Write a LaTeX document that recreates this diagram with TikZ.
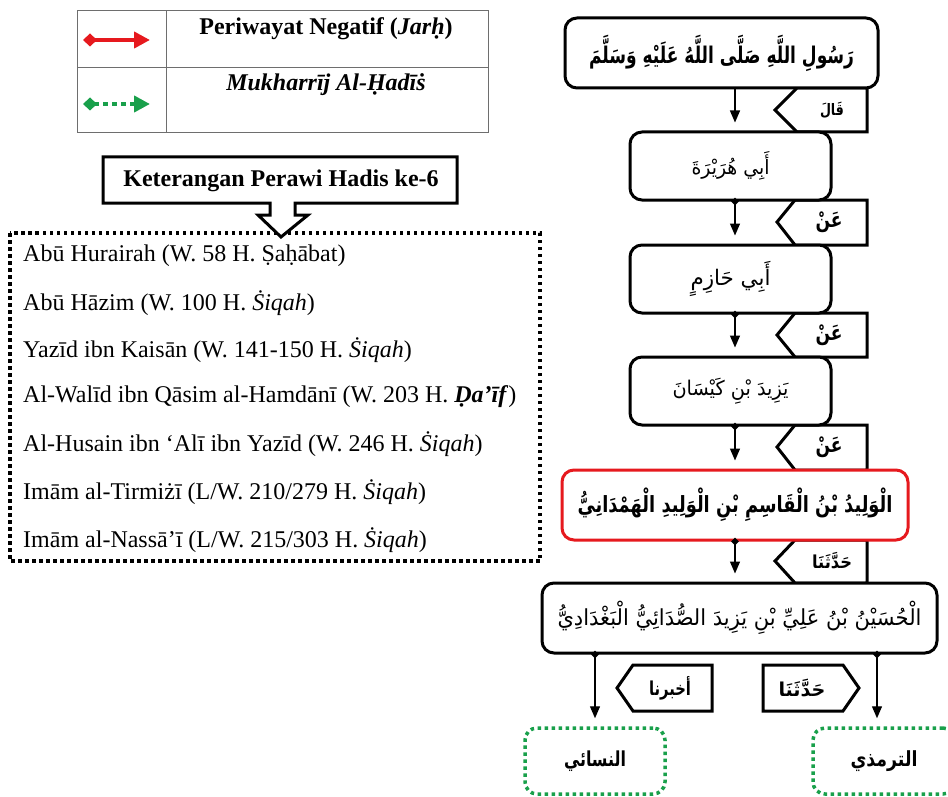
\documentclass[tikz,border=0pt]{standalone}
\usepackage{fontspec}
\usepackage{graphicx}
\setmainfont{Liberation Serif}
\newfontfamily\arabicfont[Script=Arabic]{DejaVu Sans}
\TeXXeTstate=1
\usetikzlibrary{arrows.meta,shapes.geometric}
\definecolor{jred}{RGB}{230,25,30}
\definecolor{mgreen}{RGB}{25,160,75}
\definecolor{tgray}{RGB}{110,110,110}
% width in pt, vertical stretch factor, text
\newcommand{\artxt}[3]{\scalebox{1}[#2]{\resizebox{#1pt}{!}{\arabicfont #3}}}
\newcommand{\artxtb}[3]{\scalebox{1}[#2]{\resizebox{#1pt}{!}{\arabicfont\bfseries #3}}}
\begin{document}
\begin{tikzpicture}[x=1pt,y=-1pt,
  every node/.style={inner sep=0pt,font=\fontsize{24}{28}\selectfont},
  box/.style={draw,line width=3pt,rounded corners=12pt,fill=white},
  redbox/.style={box,draw=jred},
  gbox/.style={draw=mgreen,line width=3.5pt,dash pattern=on 3.5pt off 3.5pt,rounded corners=12pt,fill=white},
  tagshape/.style={draw,line width=3pt,fill=white,line join=miter},
  arr/.style={line width=1.3pt,-{Triangle[length=12pt,width=10pt]},shorten >=8pt},
  jdot/.style={diamond,fill=black,minimum size=8pt},
  redarrow/.style={line width=4pt,draw=jred,{Diamond[length=14pt,width=13pt,fill=jred]}-{Triangle[length=16pt,width=16pt,fill=jred]}},
  greenarrow/.style={line width=4pt,draw=mgreen,dash pattern=on 5pt off 4pt,{Diamond[length=14pt,width=13pt,fill=mgreen]}-{Triangle[length=16pt,width=16pt,fill=mgreen]}},
  lgline/.style={draw=tgray,line width=1pt},
  dotbox/.style={line width=3.5pt,dash pattern=on 3.5pt off 3.5pt},
  callout/.style={draw,line width=3pt,fill=white,line join=miter}
]
\clip (0,0) rectangle (948,797);
\fill[white] (0,0) rectangle (948,797);

% ---------- legend ----------
\draw[lgline] (77,11) rectangle (488,133);
\draw[lgline] (166,11) -- (166,133);
\draw[lgline] (77,68) -- (488,68);
\coordinate (ra) at (83,40);
\coordinate (rb) at (150,40);
\draw[redarrow] (ra) -- (rb);
\coordinate (ga) at (83,104);
\coordinate (gb) at (150,104);
\draw[greenarrow] (ga) -- (gb);
\node (lg1) at (326,29) {\bfseries Periwayat Negatif (\textit{Jarḥ})};
\node (lg2) at (326,85) {\bfseries\itshape Mukharrīj Al-Ḥadīṡ};

% ---------- list ----------
\draw[dotbox] (10,233) rectangle (540,561);
\draw[callout] (103,157) -- (457,157) -- (457,203) -- (295,203) -- (295,215)
  -- (308,215) -- (281,237) -- (258,215) -- (270,215) -- (270,203)
  -- (103,203) -- cycle;
\node (kt) at (281,181) {\bfseries Keterangan Perawi Hadis ke-6};

\node[anchor=west] (l1) at (23,256) {Abū Hurairah (W. 58 H. Ṣaḥābat)};
\node[anchor=west] (l2) at (23,303) {Abū Hāzim (W. 100 H. \textit{Ṡiqah})};
\node[anchor=west] (l3) at (23,350) {Yazīd ibn Kaisān (W. 141-150 H. \textit{Ṡiqah})};
\node[anchor=west] (l4) at (23,397) {Al-Walīd ibn Qāsim al-Hamdānī (W. 203 H. \textbf{\textit{Ḍa’īf}})};
\node[anchor=west] (l5) at (23,444) {Al-Husain ibn ‘Alī ibn Yazīd (W. 246 H. \textit{Ṡiqah})};
\node[anchor=west] (l6) at (23,492) {Imām al-Tirmiżī (L/W. 210/279 H. \textit{Ṡiqah})};
\node[anchor=west] (l7) at (23,540) {Imām al-Nassā’ī (L/W. 215/303 H. \textit{Ṡiqah})};

% ---------- chain tags ----------
\draw[tagshape] (797,88) -- (867,88) -- (867,132) -- (797,132) -- (775,110) -- cycle;
\draw[tagshape] (795,200) -- (867,200) -- (867,245) -- (795,245) -- (777,222) -- cycle;
\draw[tagshape] (795,313) -- (867,313) -- (867,357) -- (795,357) -- (777,335) -- cycle;
\draw[tagshape] (795,425) -- (867,425) -- (867,470) -- (795,470) -- (777,447) -- cycle;
\draw[tagshape] (795,540) -- (867,540) -- (867,583) -- (795,583) -- (775,561) -- cycle;
\draw[tagshape] (633,665) -- (712,665) -- (712,711) -- (633,711) -- (617,688) -- cycle;
\draw[tagshape] (763,665) -- (843,665) -- (859,688) -- (843,711) -- (763,711) -- cycle;

\node (t1) at (832,110) {\artxtb{24}{1.25}{\beginR قَالَ\endR}};
\node (t2) at (829,222) {\artxtb{27}{1.25}{\beginR عَنْ\endR}};
\node (t3) at (829,335) {\artxtb{27}{1.25}{\beginR عَنْ\endR}};
\node (t4) at (829,447) {\artxtb{27}{1.25}{\beginR عَنْ\endR}};
\node (t5) at (832,561) {\artxtb{40}{1.1}{\beginR حَدَّثَنَا\endR}};
\node (t6) at (670,688) {\artxtb{42}{1.3}{\beginR أخبرنا\endR}};
\node (t7) at (802,688) {\artxtb{47}{1.0}{\beginR حَدَّثَنَا\endR}};

% ---------- chain boxes ----------
\node[box,minimum width=313pt,minimum height=70pt] (b1) at (721.5,53)
  {\artxtb{265}{1.35}{\beginR رَسُولِ اللَّهِ صَلَّى اللَّهُ عَلَيْهِ وَسَلَّمَ\endR}};
\node[box,minimum width=201pt,minimum height=68pt] (b2) at (730.5,166)
  {\artxt{78}{1.05}{\beginR أَبِي هُرَيْرَةَ\endR}};
\node[box,minimum width=201pt,minimum height=68pt] (b3) at (730.5,279)
  {\artxt{80}{1.0}{\beginR أَبِي حَازِمٍ\endR}};
\node[box,minimum width=201pt,minimum height=68pt] (b4) at (730.5,391)
  {\artxt{116}{1.05}{\beginR يَزِيدَ بْنِ كَيْسَانَ\endR}};
\node[redbox,minimum width=346pt,minimum height=70pt] (b5) at (735,505)
  {\artxtb{315}{1.25}{\beginR الْوَلِيدُ بْنُ الْقَاسِمِ بْنِ الْوَلِيدِ الْهَمْدَانِيُّ\endR}};
\node[box,minimum width=395pt,minimum height=70pt] (b6) at (739.5,618)
  {\artxt{364}{1.05}{\beginR الْحُسَيْنُ بْنُ عَلِيِّ بْنِ يَزِيدَ الصُّدَائِيُّ الْبَغْدَادِيُّ\endR}};

\node[gbox,minimum width=140pt,minimum height=66pt] (nas) at (595,761)
  {\artxtb{62}{1.3}{\beginR النسائي\endR}};
\node[gbox,minimum width=142pt,minimum height=66pt] (tir) at (884,761)
  {\artxtb{67}{1.2}{\beginR الترمذي\endR}};

% ---------- connectors ----------
\coordinate (ax) at (735,0);
\coordinate (axl) at (595,0);
\coordinate (axr) at (877,0);
\draw[arr] (b1.south -| ax) -- (b2.north -| ax);
\node[jdot] (d2) at (b2.south -| ax) {};
\draw[arr] (d2.center) -- (b3.north -| ax);
\node[jdot] (d3) at (b3.south -| ax) {};
\draw[arr] (d3.center) -- (b4.north -| ax);
\node[jdot] (d4) at (b4.south -| ax) {};
\draw[arr] (d4.center) -- (b5.north -| ax);
\node[jdot] (d5) at (b5.south -| ax) {};
\draw[arr] (d5.center) -- (b6.north -| ax);
\node[jdot] (d6l) at (b6.south -| axl) {};
\draw[arr] (d6l.center) -- (nas.north -| axl);
\node[jdot] (d6r) at (b6.south -| axr) {};
\draw[arr] (d6r.center) -- (tir.north -| axr);
\end{tikzpicture}
\end{document}
